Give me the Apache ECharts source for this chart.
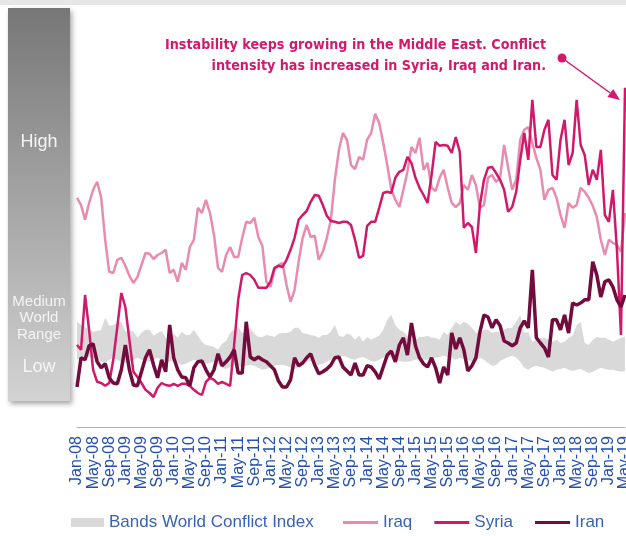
<!DOCTYPE html>
<html>
<head>
<meta charset="UTF-8">
<title>Middle East conflict intensity</title>
<script src="https://cdn.jsdelivr.net/npm/echarts@6/dist/echarts.min.js"></script>
<style>
  html, body { margin: 0; padding: 0; background: #fff; }
  #main { width: 626px; height: 536px; }
</style>
</head>
<body>
<div id="main"></div>
<script>
// monthly values, Jan-08 .. May-19 (index scale 0-100)
var monthNames = ['Jan','Feb','Mar','Apr','May','Jun','Jul','Aug','Sep','Oct','Nov','Dec'];
var firstYear = 2008, lastYear = 2019, lastMonth = 4; // May-19

var iraq = [57.3,55.5,51.8,56,59.3,61.3,57.3,46.8,38.8,38.5,
  41.8,42.3,40.3,37.8,36,37.5,40.5,43.5,43.3,42,
  43,43.5,44.3,38.5,39.3,36.3,41,39.3,45,46.8,
  54.8,53.5,56.8,53.5,48,39.8,38.8,43,45,42.5,
  42.5,47.3,51.3,51,52.3,47.5,45.3,36.3,35,39.3,
  40.5,41,35.5,31.3,34.3,41.3,47.3,50.5,47.5,47.8,
  41.8,43.8,47.3,51.8,61.8,69.3,73.5,71.8,65.5,64.5,
  67.5,66.8,71.8,73.5,78.3,76,71,65.5,59.3,56.8,
  55,59.3,63.8,70,68.5,72.3,64.3,66,59.8,59,
  62.3,64.3,59.8,56,55,56,60.5,59.3,63,60.5,
  54.8,55.5,62.3,63,61.3,62.3,70.5,64.8,59.3,61.8,
  71.8,74.3,75,71,67.3,64.3,56.8,59.3,59.8,57.3,
  53,49.8,56,54.8,55.5,59.8,58.8,57.3,55.3,52.5,
  46.8,43,46.8,46,45.5,43.8,53.5];

var syria = [20.5,19.3,33,24.3,14.3,11.3,11,10.3,11,16.8,
  25,33.5,30,21.8,13.8,12.5,11,9.3,8.5,7.5,
  9.8,11,10.5,10.3,10.8,10.3,10.8,10.8,10.3,9.3,
  8.5,8,11.3,12.3,11.8,10.8,11.3,10.8,10.3,20.5,
  31.8,38,38.5,38,36.8,34.8,34.8,34.8,36.3,39.8,
  40.3,40,41.8,44.3,47.3,51.8,53,54,56.3,58,
  57.8,55.5,52.8,51.5,51.3,51,51.3,51.3,50.5,46.8,
  42.3,42.8,50.3,51.3,51.3,54.8,58.5,58.8,58.5,62.3,
  63.8,64.3,67.5,66,62.3,59.8,58,56,63,71.3,
  70.3,70.5,70.3,68.5,72.5,68.8,49.8,51,50,43.5,
  55.5,61.8,64.8,65,63.5,61.8,59.3,53.8,55,58.8,
  66.8,73.5,66.8,81.8,70,70,74.3,76.8,63,61.8,
  71.8,76.8,65.5,68.5,81.8,70.5,68,60.5,64.3,61.8,
  69.3,53,51.3,59.3,44.3,23,84.8];

var iran = [10,17.3,16.8,20.3,20.8,16.3,14.8,15.8,12.3,11,
  10.8,14.3,20.5,14.3,10.5,10.3,13.8,17.3,19.3,15.5,
  12.3,16.8,13.8,25.5,17.3,14.3,12.5,12.3,10.3,14.8,
  16.3,16.5,14.3,12.5,14.3,18.3,15.3,16.3,17.5,19.3,
  13.5,13.5,26.3,17.5,16.8,17.5,16.8,16.3,15.3,14.3,
  11.5,10,10,11.8,17.3,15.3,16,17.3,18.3,15.5,
  13.3,13.8,14.5,15.5,17.3,17.5,15,14,13,16,
  13,13,15.3,15,13.8,12,15,18,19,16.3,
  20.5,22.3,18,26,20.3,17.3,15.8,15,17.3,14.8,
  11,15,13,23.5,19.5,22.3,19.3,14,15.3,17.3,
  23.8,28,27.5,24.8,26.8,25.3,21.5,21,20.3,21,
  24.8,26.5,24.8,39.3,22.3,21,19.8,17.5,26.8,26.8,
  24.3,28,23.5,31,30.5,31,31.8,31.8,41.3,38,
  32.5,36.3,36.8,35,31.8,30,33];

// world conflict index band (medium range)
var bandHigh = [26.3,25.5,25,24.3,23.8,24,24.3,27.3,25.3,25.5,
  26,26.3,23.8,24.3,23.8,22.3,23.5,24.3,24.3,22.8,
  23.5,24,22.3,21.8,23.3,22.3,23.8,23,23,24.3,
  22.8,21.3,20.5,20.3,20,19.3,20.8,21.5,23.5,24.5,
  25,23.5,23.8,24.8,23.3,22.5,22.5,23,22.8,22.5,
  23.3,23.5,23.5,23.8,24.8,24.8,23.5,23.3,23,22.8,
  22.3,23,23,23.8,25.5,22.8,22.5,23.3,23,21.8,
  22.8,21.3,22.5,21.8,22.3,22.8,24.3,26.8,28,25.5,
  24.3,23.8,22.8,21.8,21.8,22.5,22.5,22.8,22.3,22.3,
  21.8,23.8,23,24.8,26.3,25.5,26.3,25.8,24.8,23.5,
  23.3,24.3,24.3,23.5,23.8,23.8,24.3,24.8,24.8,26.3,
  28,23.5,23.8,21.3,21.8,22.3,22.3,21.8,21.3,21.8,
  21,21.3,22.3,22.8,25.5,26.3,21,20.5,21.8,22.5,
  22.3,22.3,21.8,21.3,21.8,22.3,22.5];

var bandLow = [16.8,17.3,17.5,17.5,17.3,16.8,16.3,16,16.8,17.3,
  16.8,16.3,16,16.3,16.8,17.3,16.8,16.5,16.3,16.8,
  17.3,16.8,16.3,16.3,16.5,16,15.5,15.8,16.3,16.8,
  16.5,16,15.8,16,16.3,15.5,14.8,14.5,15,15.5,
  15.3,15,15.3,15.5,15.3,14.8,14.3,14.5,15,15.3,
  15.5,15.5,15.3,14.8,14.5,14.8,15.8,16.3,16.5,16,
  15.5,15.8,16.3,16.8,17.3,17.5,17.8,17.5,17,16.8,
  17.3,17.5,17,16.5,16.3,16.8,17.3,17.5,17.3,16.8,
  16.5,16.3,16.3,16.5,16.8,17,16.8,16.8,17.3,17.3,
  17.5,17.8,17.5,17.3,16.8,17.3,17,16.8,16.3,16.3,
  17.3,16.8,16,15.3,15.5,16.5,17,17.5,17.8,17.3,
  16.3,14.8,14.3,15,15.3,15,14.8,14.3,13.8,14.3,
  14.5,14.8,14.3,14,14.3,14.5,14,13.5,13.8,14.3,
  14.8,14.5,14.3,14.3,14,13.8,14];

var months = [];
for (var y = firstYear; y <= lastYear; y++) {
  for (var m = 0; m < 12; m++) {
    if (y == lastYear && m > lastMonth) break;
    months.push(monthNames[m] + '-' + String(y).slice(2));
  }
}
var bandWidth = bandHigh.map(function (v, i) { return +(v - bandLow[i]).toFixed(1); });

var magenta = '#d2196b';
var labelFont = "'Liberation Sans', Arial, sans-serif";
var noteFont = "bold 14.2px 'Liberation Sans Narrow', 'DejaVu Sans Condensed', sans-serif";

var myChart = echarts.init(document.getElementById('main'));
var option = {
  animation: false,
  backgroundColor: '#ffffff',
  grid: { left: 77, right: 1, top: 27, bottom: 109, containLabel: false, outerBoundsMode: 'none' },
  xAxis: {
    type: 'category',
    data: months,
    boundaryGap: false,
    axisLine: { lineStyle: { color: '#a4aed6', width: 1 } },
    axisTick: { show: false },
    splitLine: { show: false },
    axisLabel: {
      interval: 3,
      rotate: 90,
      margin: 9,
      color: '#2450b0',
      fontSize: 16,
      fontFamily: labelFont
    }
  },
  yAxis: { type: 'value', min: 0, max: 100, show: false },
  legend: [
    {
      left: 71,
      top: 514,
      padding: 0,
      itemWidth: 33,
      itemHeight: 9,
      itemGap: 6,
      textStyle: { fontSize: 17, color: '#3a62b6', fontFamily: labelFont },
      data: [{ name: 'Bands World Conflict Index', icon: 'rect' }]
    },
    {
      left: 343,
      top: 514,
      padding: 0,
      itemWidth: 35,
      itemHeight: 3,
      itemGap: 22,
      icon: 'rect',
      textStyle: { fontSize: 17, color: '#3a62b6', fontFamily: labelFont },
      data: ['Iraq', 'Syria', 'Iran']
    }
  ],
  graphic: [
    { type: 'rect', shape: { x: 0, y: 0, width: 626, height: 5 }, style: { fill: '#e7e7e7' } },
    {
      type: 'rect',
      shape: { x: 8, y: 8, width: 62, height: 393 },
      style: {
        fill: new echarts.graphic.LinearGradient(0, 0, 0, 1, [
          { offset: 0, color: '#777777' },
          { offset: 1, color: '#d3d3d3' }
        ]),
        shadowBlur: 5, shadowOffsetX: 2, shadowOffsetY: 3,
        shadowColor: 'rgba(0,0,0,0.35)'
      }
    },
    { type: 'text', x: 39, y: 142, style: { text: 'High', fill: '#f4f4f4', font: '18px ' + labelFont, textAlign: 'center', textVerticalAlign: 'middle' } },
    { type: 'text', x: 39, y: 318, style: { text: 'Medium\nWorld\nRange', fill: '#f4f4f4', font: '15px ' + labelFont, lineHeight: 16.5, textAlign: 'center', textVerticalAlign: 'middle' } },
    { type: 'text', x: 39, y: 367, style: { text: 'Low', fill: '#f4f4f4', font: '18px ' + labelFont, textAlign: 'center', textVerticalAlign: 'middle' } },
    { type: 'text', x: 546, y: 45, style: { text: 'Instability keeps growing in the Middle East. Conflict', fill: magenta, font: noteFont, textAlign: 'right', textVerticalAlign: 'middle' } },
    { type: 'text', x: 546, y: 66, style: { text: 'intensity has increased in Syria, Iraq and Iran.', fill: magenta, font: noteFont, textAlign: 'right', textVerticalAlign: 'middle' } },
    { type: 'line', shape: { x1: 562, y1: 58, x2: 610.3, y2: 93 }, style: { stroke: magenta, lineWidth: 1.5 } },
    { type: 'polygon', shape: { points: [[620, 100], [613.2, 89], [607.4, 97.1]] }, style: { fill: magenta } },
    { type: 'circle', shape: { cx: 562, cy: 58, r: 4.5 }, style: { fill: magenta } }
  ],
  series: [
    {
      name: 'bandBase', type: 'line', stack: 'band', data: bandLow,
      symbol: 'none', silent: true, lineStyle: { opacity: 0 }
    },
    {
      name: 'Bands World Conflict Index', type: 'line', stack: 'band', data: bandWidth,
      symbol: 'none', silent: true, lineStyle: { opacity: 0 },
      itemStyle: { color: '#d9d9d9' },
      areaStyle: { color: '#d9d9d9', opacity: 1 }
    },
    {
      name: 'Iraq', type: 'line', data: iraq, symbol: 'none',
      itemStyle: { color: '#e98bb0' },
      lineStyle: { color: '#e98bb0', width: 2.5 }
    },
    {
      name: 'Syria', type: 'line', data: syria, symbol: 'none',
      itemStyle: { color: '#d01a69' },
      lineStyle: { color: '#d01a69', width: 2.5 }
    },
    {
      name: 'Iran', type: 'line', data: iran, symbol: 'none',
      itemStyle: { color: '#730b3c' },
      lineStyle: { color: '#730b3c', width: 3.5 }
    }
  ]
};
myChart.setOption(option);
</script>
</body>
</html>
